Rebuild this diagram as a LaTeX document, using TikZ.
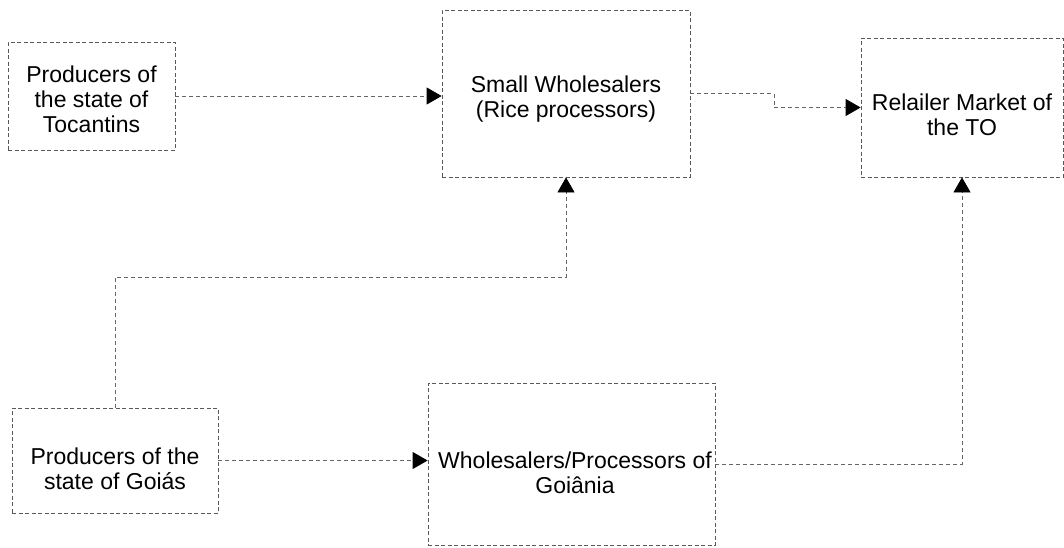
\documentclass[tikz,border=0pt]{standalone}
\usepackage{fontspec}
\setmainfont{Liberation Sans}
\usetikzlibrary{arrows.meta}
\begin{document}
\begin{tikzpicture}[x=1pt,y=-1pt,
  stagebox/.style={draw=black!65, line width=0.8pt, dash pattern=on 4pt off 2.5pt,
    rectangle, inner sep=0pt},
  stagetext/.style={align=center, inner sep=0pt, font=\fontsize{23}{25}\selectfont},
  flow/.style={draw=black!60, line width=0.8pt, dash pattern=on 4pt off 3pt,
    -{Triangle[length=15pt,width=17pt,color=black]}}
]
\useasboundingbox (0,0) rectangle (1064,547);

\node[stagebox, minimum width=167pt, minimum height=108pt] (A) at (91.5,96) {};
\node[stagebox, minimum width=248pt, minimum height=167pt] (B) at (566,93.5) {};
\node[stagebox, minimum width=202pt, minimum height=139pt] (C) at (962,107.5) {};
\node[stagebox, minimum width=206pt, minimum height=105pt] (D) at (115,460.5) {};
\node[stagebox, minimum width=287pt, minimum height=162pt] (E) at (571.5,464) {};

\node[stagetext] (At) at (91.5,99) {Producers of\\the state of\\Tocantins};
\node[stagetext] (Bt) at (566,99) {Small Wholesalers\\ (Rice processors)};
\node[stagetext] (Ct) at (962,115) {Relailer Market of\\the TO};
\node[stagetext] (Dt) at (115,469) {Producers of the\\state of Goiás};
\node[stagetext] (Et) at (575,473) {Wholesalers/Processors of\\Goiânia};

\coordinate (k1) at (774,93.5);
\coordinate (j1) at (115,277);

\draw[flow] (A.east) -- (B.west |- A.east);
\draw[flow] (B.east) -- (k1) |- (C.west);
\draw[flow] (D.north) -- (j1) -| (B.south);
\draw[flow] (D.east) -- (E.west |- D.east);
\draw[flow] (E.east) -| (C.south);
\end{tikzpicture}
\end{document}
